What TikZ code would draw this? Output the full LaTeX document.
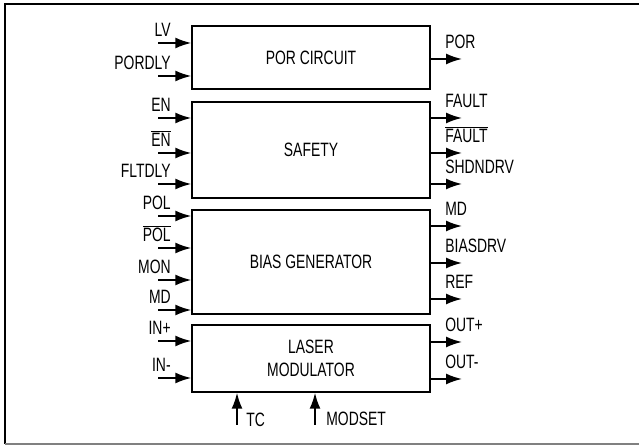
\documentclass[tikz,border=0pt]{standalone}
\usepackage{fontspec}
\setmainfont[FakeStretch=0.72]{Liberation Sans}
\usetikzlibrary{arrows.meta}

\tikzset{
  block/.style={draw, line width=0.85pt, minimum width=4.76cm, align=center,
    font=\fontsize{11}{12}\selectfont, inner sep=0pt},
  sig/.style={-{Latex[length=0.32cm,width=0.22cm]}, line width=1pt},
  pinlabel/.style={font=\fontsize{11}{12}\selectfont, inner sep=0pt},
}

\begin{document}
\begin{tikzpicture}[x=0.02cm, y=-0.02cm]
  \useasboundingbox (0,0) rectangle (639,445);

  % frame
  \draw[line width=1.2pt] (5,444) -- (5,4) -- (639,4);
  \draw[gray, line width=0.8pt] (5,444) -- (639,444);

  % blocks
  \node[block, minimum height=1.26cm] (por)    at (311,57.5)  {POR CIRCUIT};
  \node[block, minimum height=1.92cm] (safety) at (311,150)   {SAFETY};
  \node[block, minimum height=2.08cm] (bias)   at (311,262)   {BIAS GENERATOR};
  \node[block, minimum height=1.34cm] (laser)  at (311,358.5) {LASER\\[1pt]MODULATOR};

  % inputs
  \foreach \y/\t in {43/LV, 76/PORDLY, 118/EN, 153/{$\overline{\mbox{EN}}$},
      184/FLTDLY, 216/POL, 248/{$\overline{\mbox{POL}}$}, 280/MON, 310/MD,
      341/IN+, 378/IN-} {
    \coordinate (in\y) at (158,\y);
    \draw[sig] (in\y) -- (in\y -| por.west);
    \node[pinlabel, anchor=base east] at (171,\y-6) {\t};
  }

  % outputs
  \foreach \y/\t in {59/POR, 118/FAULT, 153/{$\overline{\mbox{FAULT}}$},
      184/SHDNDRV, 226/MD, 263/BIASDRV, 299/REF, 342/OUT+, 379/OUT-} {
    \coordinate (out\y) at (462,\y);
    \draw[sig] (out\y -| por.east) -- (out\y);
    \node[pinlabel, anchor=base west] at (445,\y-10) {\t};
  }

  % bottom inputs
  \coordinate (tc) at (237,425);
  \coordinate (modset) at (315,425);
  \draw[sig] (tc) -- (tc |- laser.south);
  \draw[sig] (modset) -- (modset |- laser.south);
  \node[pinlabel, anchor=west] (tclabel) at (246,420) {TC};
  \node[pinlabel, anchor=west] (modsetlabel) at (326,419) {MODSET};
\end{tikzpicture}
\end{document}
